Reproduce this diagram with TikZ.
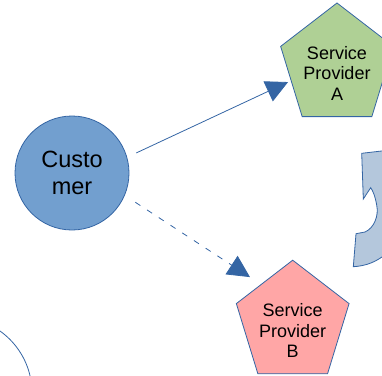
\documentclass[tikz,border=0pt]{standalone}
\usepackage{fontspec}
\setmainfont{Liberation Sans}
\usetikzlibrary{arrows.meta,shapes.geometric}
\definecolor{edgeblue}{HTML}{3465A4}
\definecolor{custblue}{HTML}{729FCF}
\definecolor{provgreen}{HTML}{AFD095}
\definecolor{provred}{HTML}{FFA6A6}
\definecolor{partblue}{HTML}{B4C7DC}
\tikzset{
    cust/.style={
           circle,
           draw=edgeblue, fill=custblue,
           minimum size=114pt,
           inner sep=0pt,
           align=center,
           font=\fontsize{23.5}{27}\selectfont},
    prov/.style={
           regular polygon,
           regular polygon sides=5,
           draw=edgeblue,
           minimum size=118.5pt,
           inner sep=0pt,
           yscale=1.06, transform shape},
    provtext/.style={
           align=center,
           yshift=-7.5pt,
           font=\fontsize{18}{20.3}\selectfont},
    % Define arrow style
    msgs/.style={
           -{Triangle[length=22pt,width=22pt]},
           draw=edgeblue,
           line width=0.8pt}
}

\begin{document}
\begin{tikzpicture}[x=1pt, y=-1pt, line width=0.8pt]
	\useasboundingbox (0,0) rectangle (382,375);
	\clip (0,0) rectangle (382,375);

	\node[cust] (customer) at (72,173) {Custo\\mer};
	\node[prov, fill=provgreen] (provA) at (337,65.8) {};
	\node[provtext] (txtA) at (provA) {Service\\Provider\\A};
	\node[prov, fill=provred] (provB) at (292.7,323) {};
	\node[provtext] (txtB) at (provB) {Service\\Provider\\B};
	\node[circle, draw=edgeblue, minimum size=152pt] (other) at (-44,393) {};

	% partly hidden piece on the right
	\draw[edgeblue, fill=partblue] (361.7,153.3) -- (386,150.5) -- (386,254)
		.. controls (376,262) and (366,266) .. (353.3,266.7) -- (356,233.7) -- (365,232)
		.. controls (374,228) and (379,216) .. (376.7,205)
		.. controls (375,196) and (373,191) .. (370.7,187.7) -- (363.3,199) -- cycle;

	\draw[msgs, shorten <=10pt, shorten >=3pt] (customer.16.5) -- (provA.197.5);
	\draw[msgs, dash pattern=on 6pt off 8pt, shorten <=12.5pt, shorten >=13pt] (customer.-23) -- (provB.131);
\end{tikzpicture}
\end{document}
